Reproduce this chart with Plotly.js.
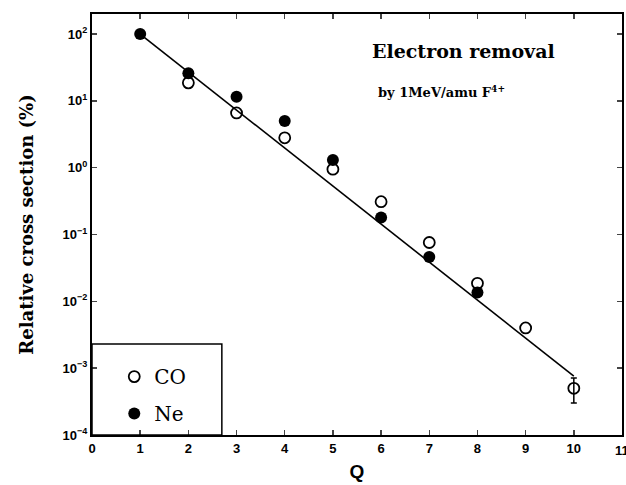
<!DOCTYPE html>
<html><head><meta charset="utf-8">
<script src="https://cdn.plot.ly/plotly-3.0.1.min.js"></script>
<style>body{margin:0;background:#fff}#c{width:626px;height:485px}</style>
</head><body><div id="c"></div>
<script>
const qCO = [2, 3, 4, 5, 6, 7, 8, 9, 10];
const valCO = [18.6, 6.6, 2.8, 0.95, 0.31, 0.076, 0.0186, 0.0040, 0.0005];
const qErr = [10];
const valErr = [0.0005];
const errPlus = [0.00021];
const errMinus = [0.0002];
const qNe = [1, 2, 3, 4, 5, 6, 7, 8];
const valNe = [100, 26, 11.5, 5.0, 1.3, 0.18, 0.046, 0.0136];
const fitQ = [1, 10];
const fitVal = [100, 0.00076];
const yTickVals = [1e-4, 1e-3, 1e-2, 1e-1, 1, 10, 100];
const yTickText = ['10<sup>−4</sup>', '10<sup>−3</sup>', '10<sup>−2</sup>', '10<sup>−1</sup>', '10<sup>0</sup>', '10<sup>1</sup>', '10<sup>2</sup>'];
const xTickVals = [0,1,2,3,4,5,6,7,8,9,10,11];

const traces = [
  {x: fitQ, y: fitVal, mode: 'lines', line: {color: '#000', width: 1.6}, showlegend: false, hoverinfo: 'skip'},
  {x: qErr, y: valErr, mode: 'markers', showlegend: false, marker: {size: 1, opacity: 0},
   error_y: {type: 'data', symmetric: false, array: errPlus, arrayminus: errMinus, color: '#000', thickness: 1.5, width: 3}},
  {x: qCO, y: valCO, mode: 'markers', name: 'CO', legendgroup: 'a',
   marker: {symbol: 'circle-open', size: 11, color: '#000', line: {width: 1.8, color: '#000'}}},
  {x: qNe, y: valNe, mode: 'markers', name: 'Ne', legendgroup: 'b',
   marker: {symbol: 'circle', size: 12, color: '#000'}}
];

const layout = {
  width: 626, height: 485,
  margin: {l: 92, r: 4, t: 14, b: 50},
  paper_bgcolor: '#fff', plot_bgcolor: '#fff',
  showlegend: true,
  legend: {x: 0.042, y: 0.185, xanchor: 'left', yanchor: 'top', bgcolor: 'rgba(0,0,0,0)',
           font: {family: 'DejaVu Serif', size: 20, color: '#000'}, tracegroupgap: 8, borderwidth: 0},
  xaxis: {range: [0, 11], tickvals: xTickVals, ticks: 'inside', ticklen: 5, tickwidth: 1.5,
          showline: true, linecolor: '#000', linewidth: 2, mirror: 'ticks', showgrid: false, zeroline: false,
          tickfont: {family: 'Liberation Sans', size: 13, color: '#000', weight: 'bold'},
          title: {text: '<b>Q</b>', font: {family: 'Liberation Sans', size: 19, color: '#000'}, standoff: 10}},
  yaxis: {type: 'log', range: [-4, 2.3], tickvals: yTickVals, ticktext: yTickText, ticks: 'inside', ticklen: 5, tickwidth: 1.5,
          showline: true, linecolor: '#000', linewidth: 2, mirror: 'ticks', showgrid: false, zeroline: false,
          tickfont: {family: 'Liberation Sans', size: 13, color: '#000', weight: 'bold'},
          title: {text: '<b>Relative cross section (%)</b>', font: {family: 'DejaVu Serif', size: 18, color: '#000'}, standoff: 24}},
  shapes: [{type: 'rect', xref: 'paper', yref: 'paper', x0: 0, x1: 0.245, y0: 0, y1: 0.216, line: {color: '#000', width: 1.5}}],
  annotations: [
    {xref: 'paper', yref: 'paper', x: 0.7, y: 0.912, xanchor: 'center', yanchor: 'middle', showarrow: false,
     text: '<b>Electron removal</b>', font: {family: 'DejaVu Serif', size: 19, color: '#000'}},
    {xref: 'paper', yref: 'paper', x: 0.659, y: 0.815, xanchor: 'center', yanchor: 'middle', showarrow: false,
     text: '<b>by 1MeV/amu F<sup>4+</sup></b>', font: {family: 'DejaVu Serif', size: 13, color: '#000'}},
    {xref: 'x', yref: 'paper', x: 11, y: 0, yanchor: 'top', yshift: -6, showarrow: false,
     text: '<b>11</b>', font: {family: 'Liberation Sans', size: 13, color: '#000'}}
  ]
};
Plotly.newPlot('c', traces, layout, {staticPlot: true});
</script></body></html>
